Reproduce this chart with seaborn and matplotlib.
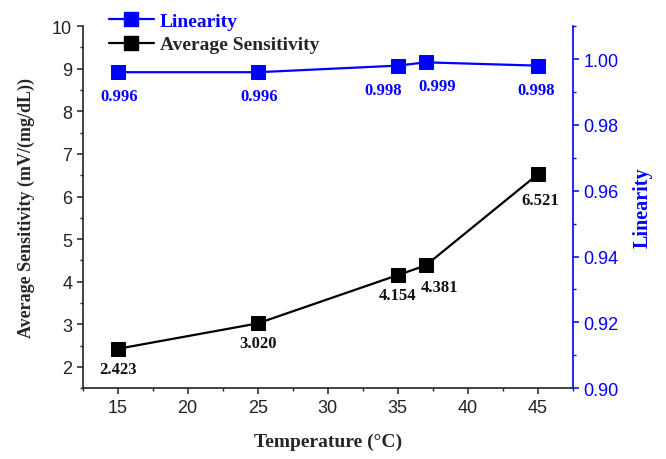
import matplotlib
matplotlib.use("Agg")
import matplotlib.pyplot as plt
import seaborn as sns
import pandas as pd
from matplotlib.ticker import MultipleLocator, FormatStrFormatter
from matplotlib.lines import Line2D

temperature = [15, 25, 35, 37, 45]
sensitivity = [2.423, 3.020, 4.154, 4.381, 6.521]
linearity = [0.996, 0.996, 0.998, 0.999, 0.998]
sens_labels = ["2.423", "3.020", "4.154", "4.381", "6.521"]
lin_labels = ["0.996", "0.996", "0.998", "0.999", "0.998"]

df = pd.DataFrame({"Temperature": temperature, "Sensitivity": sensitivity, "Linearity": linearity})

sns.set_style("ticks")
plt.rcParams["font.family"] = ["Liberation Sans", "DejaVu Sans"]

BLUE = "#0000ff"
serif = ["Liberation Serif", "DejaVu Serif"]

fig = plt.figure(figsize=(6.66, 4.6), dpi=100)
ax = fig.add_axes([0.124, 0.154, 0.736, 0.787])
ax2 = ax.twinx()

sns.lineplot(data=df, x="Temperature", y="Sensitivity", ax=ax, color="black", marker="s",
             markersize=9.5, markeredgecolor="black", linewidth=1.6)
sns.lineplot(data=df, x="Temperature", y="Linearity", ax=ax2, color=BLUE, marker="s",
             markersize=9.5, markeredgecolor=BLUE, linewidth=1.6)

ax.set_xlim(12.5, 47.5)
ax.set_ylim(1.5, 10)
ax2.set_ylim(0.90, 1.01)

ax.xaxis.set_major_locator(MultipleLocator(5))
ax.xaxis.set_minor_locator(MultipleLocator(2.5))
ax.yaxis.set_major_locator(MultipleLocator(1))
ax.yaxis.set_minor_locator(MultipleLocator(0.5))
ax2.set_yticks([0.90, 0.92, 0.94, 0.96, 0.98, 1.00])
ax2.yaxis.set_minor_locator(MultipleLocator(0.01))
ax2.yaxis.set_major_formatter(FormatStrFormatter("%.2f"))

for a in (ax, ax2):
    a.spines["top"].set_visible(False)
ax.spines["right"].set_visible(False)
ax2.spines["left"].set_visible(False)
ax2.spines["bottom"].set_visible(False)
for s in ("left", "bottom"):
    ax.spines[s].set_color("#222222")
    ax.spines[s].set_linewidth(1.2)
ax2.spines["right"].set_color(BLUE)
ax2.spines["right"].set_linewidth(1.2)

ax.tick_params(axis="both", which="major", direction="out", length=4, width=1.1,
               labelsize=13, colors="#222222")
ax.tick_params(axis="both", which="minor", direction="out", length=2.5, width=1.0, colors="#222222")
ax2.tick_params(axis="y", which="major", direction="out", length=4, width=1.1,
                labelsize=13, colors=BLUE)
ax2.tick_params(axis="y", which="minor", direction="out", length=2.5, width=1.0, colors=BLUE)

ax.set_xlabel("Temperature (°C)", fontfamily=serif, fontweight="bold", fontsize=14, labelpad=12)
ax.set_ylabel("Average Sensitivity (mV/(mg/dL))", fontfamily=serif, fontweight="bold",
              fontsize=13, labelpad=12)
ax2.set_ylabel("Linearity", fontfamily=serif, fontweight="bold", fontsize=14.5, color=BLUE, labelpad=10)

sens_off = [(0, -20), (0, -20), (0, -20), (14, -22), (3, -26)]
for x, y, t, o in zip(temperature, sensitivity, sens_labels, sens_off):
    ax.annotate(t, (x, y), xytext=o, textcoords="offset pixels", ha="center", va="center",
                fontfamily=serif, fontweight="bold", fontsize=12, color="#111111")

lin_off = [(2, -24), (2, -24), (-15, -24), (11, -24), (-2, -24)]
for x, y, t, o in zip(temperature, linearity, lin_labels, lin_off):
    ax2.annotate(t, (x, y), xytext=o, textcoords="offset pixels", ha="center", va="center",
                 fontfamily=serif, fontweight="bold", fontsize=12, color=BLUE)

handles = [
    Line2D([], [], color=BLUE, marker="s", markersize=9.5, linewidth=1.6, markeredgecolor=BLUE),
    Line2D([], [], color="black", marker="s", markersize=9.5, linewidth=1.6, markeredgecolor="black"),
]
leg = ax.legend(handles, ["Linearity", "Average Sensitivity"], loc="upper left",
                bbox_to_anchor=(0.149, 0.992), bbox_transform=fig.transFigure, frameon=False,
                prop={"family": serif, "weight": "bold", "size": 14},
                handlelength=2.3, handletextpad=0.3, labelspacing=0.3, borderpad=0)
leg.get_texts()[0].set_color(BLUE)
if ax2.get_legend() is not None:
    ax2.get_legend().remove()

fig.savefig("out.png", dpi=100)
